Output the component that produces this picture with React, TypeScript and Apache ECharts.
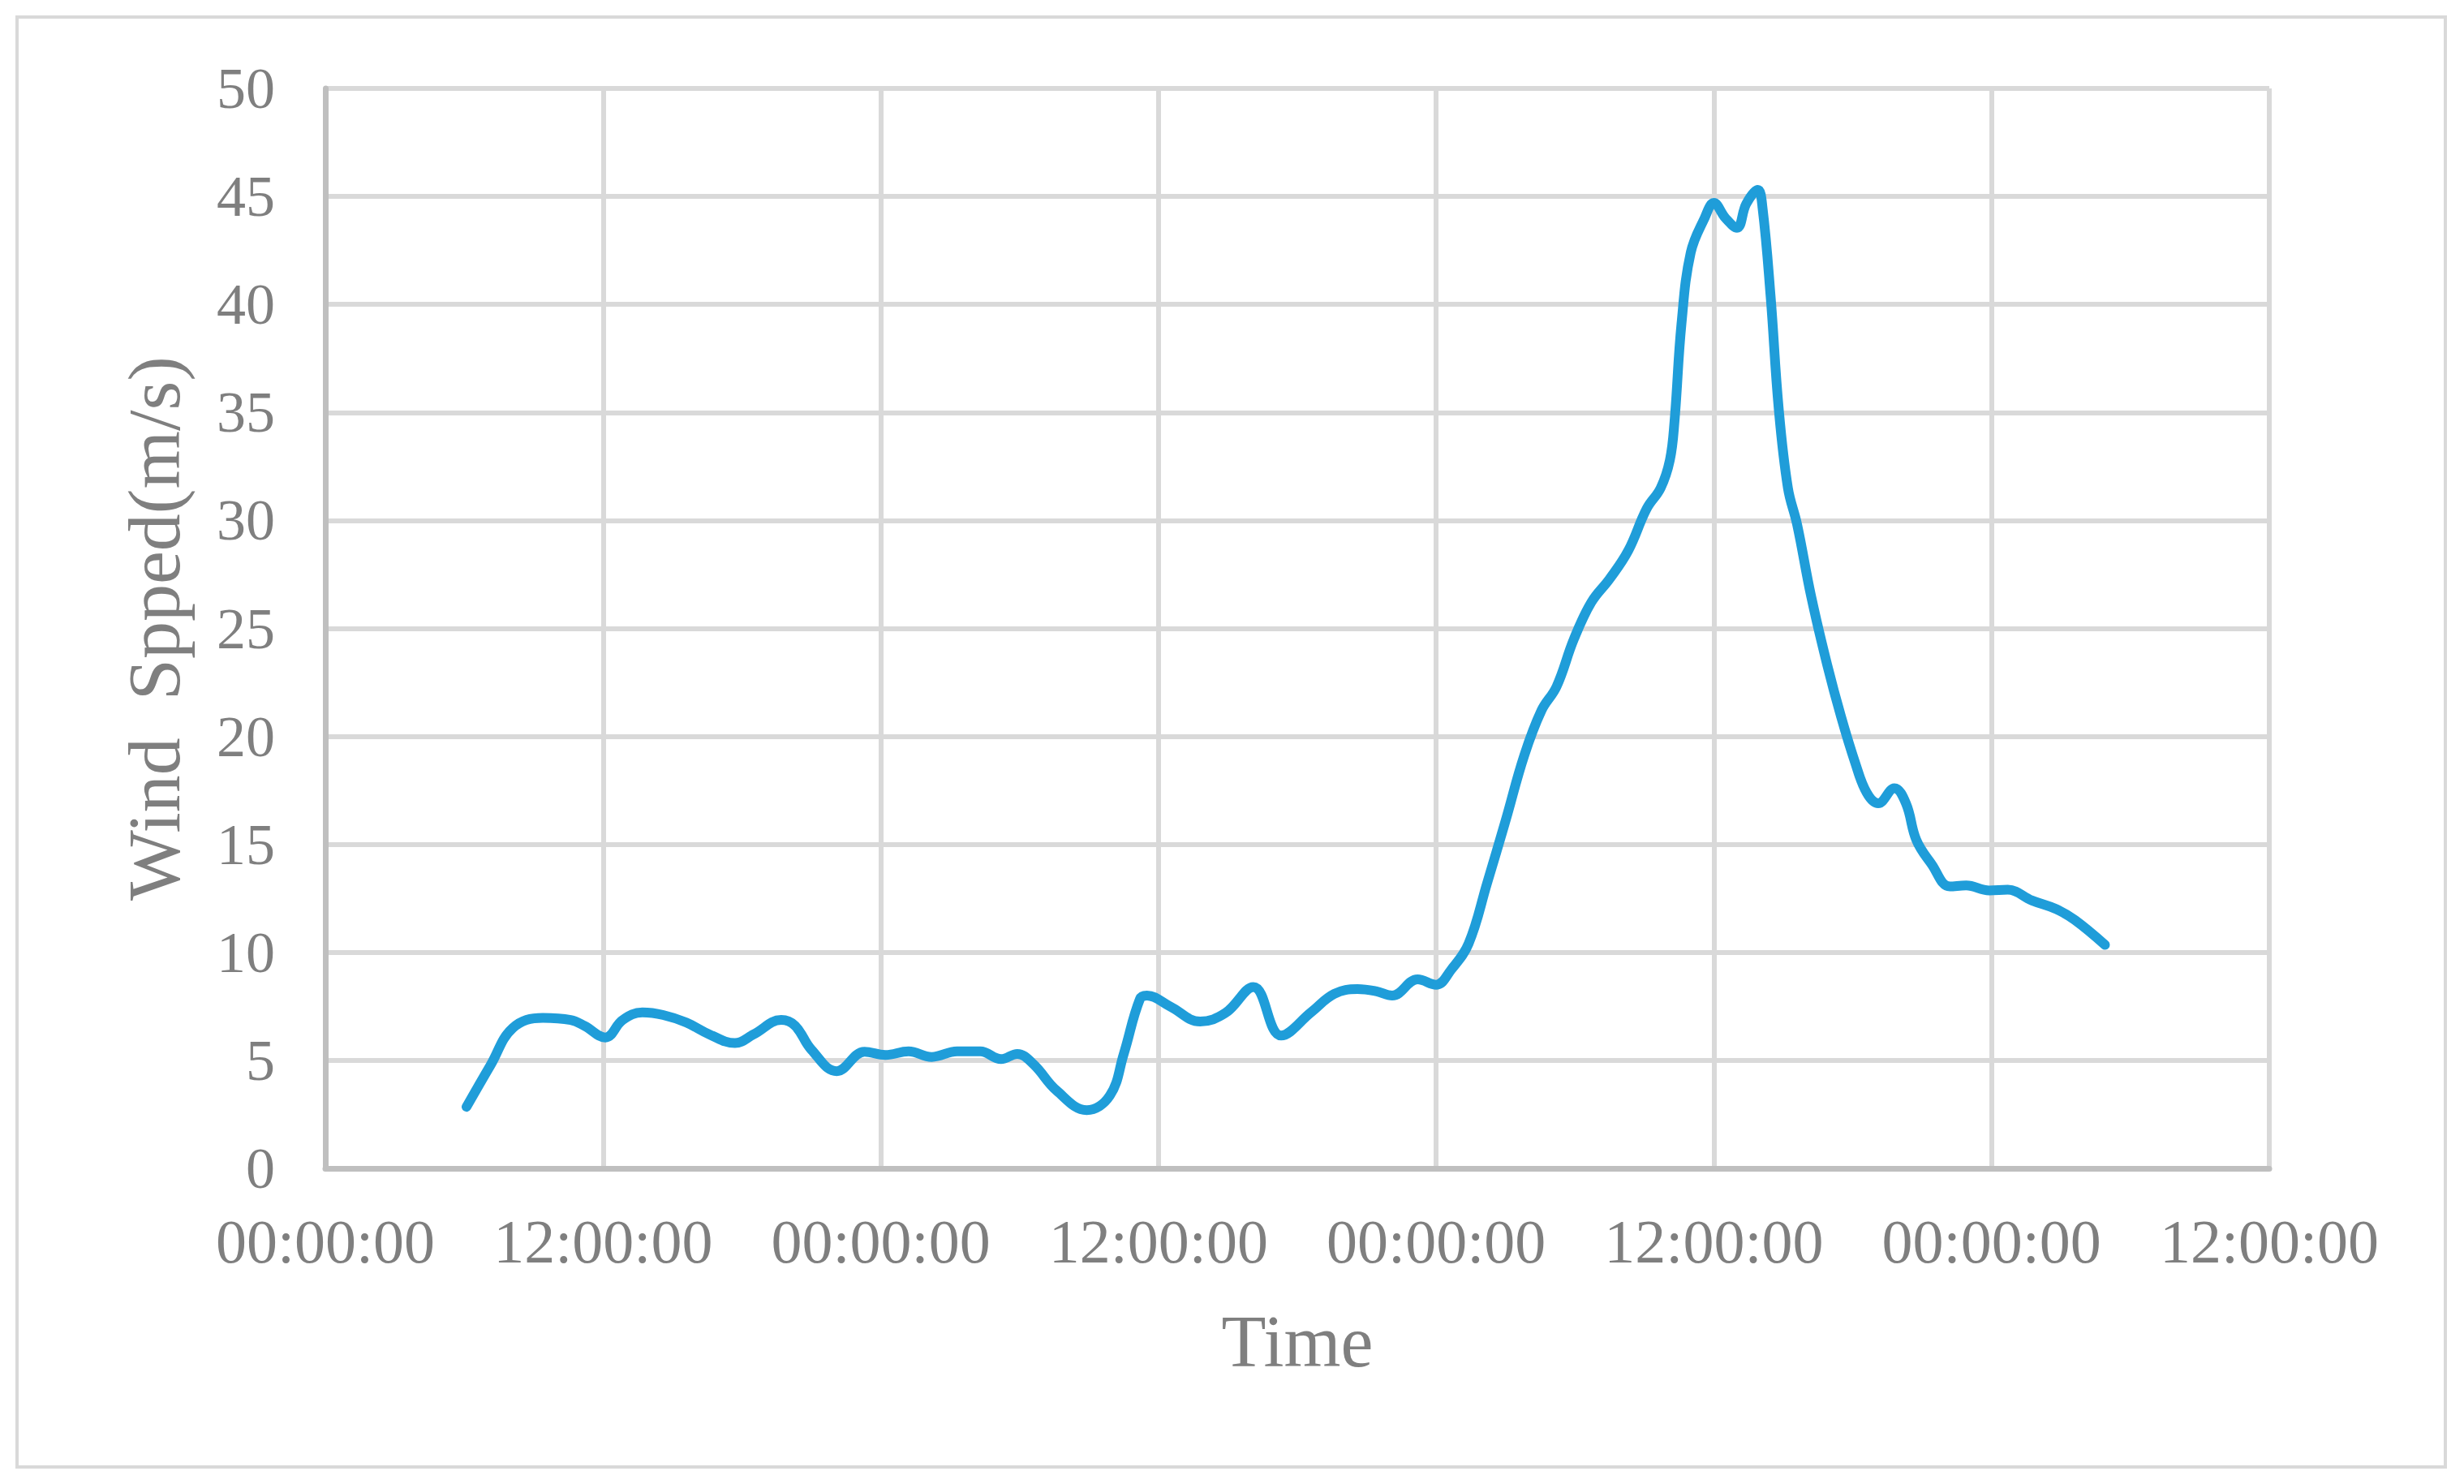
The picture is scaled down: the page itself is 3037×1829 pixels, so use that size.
import React, { useEffect, useRef } from "react";
import * as echarts from "echarts";

// Hours since the first 00:00:00 tick
const hours: number[] = [
  6.1, 7.15, 8.1, 9.4, 10.6, 11.2, 12.1, 12.85, 13.7, 14.6, 15.6, 16.6, 17.7, 18.5, 19.7, 20.3,
  21.0, 22.1, 23.3, 24.2, 25.2, 26.2, 27.3, 28.3, 29.2, 29.9, 30.6, 31.6, 32.9, 33.9, 34.5, 35.2,
  35.5, 36.5, 37.8, 38.9, 40.1, 41.3, 42.6, 43.6, 44.6, 45.4, 46.1, 47.2, 48.0, 48.65, 49.4, 50.2,
  51.0, 51.8, 52.55, 53.2, 53.95, 54.7, 55.5, 56.3, 57.1, 57.7, 58.1, 58.3, 58.6, 59.0, 59.6, 60.0,
  60.5, 61.0, 61.4, 61.9, 62.1, 62.45, 62.8, 63.2, 63.6, 64.2, 64.9, 65.5, 66.1, 66.6, 67.1, 67.8,
  68.3, 68.75, 69.4, 70.2, 70.9, 71.9, 72.7, 73.75, 74.8, 75.6, 76.9,
];

// Wind speed (m/s)
const windSpeed: number[] = [
  2.85, 4.8, 6.5, 6.97, 6.87, 6.6, 6.06, 6.87, 7.22, 7.1, 6.75, 6.2, 5.8, 6.2, 6.87, 6.6,
  5.5, 4.5, 5.4, 5.25, 5.42, 5.16, 5.42, 5.42, 5.06, 5.3, 4.82, 3.6, 2.7, 3.37, 5.3, 7.84,
  8.0, 7.5, 6.8, 7.2, 8.4, 6.15, 7.23, 8.08, 8.3, 8.2, 8.0, 8.75, 8.5, 9.2, 10.4, 13.2,
  16.1, 19.1, 21.2, 22.3, 24.5, 26.2, 27.3, 28.6, 30.55, 31.5, 32.8, 34.6, 39.1, 42.4, 44.0, 44.7,
  44.0, 43.55, 44.66, 45.3, 44.5, 40.4, 35.2, 31.5, 29.8, 26.5, 23.3, 20.9, 18.8, 17.4, 16.9, 17.6,
  16.9, 15.2, 14.1, 13.05, 13.1, 12.87, 12.9, 12.4, 12.0, 11.5, 10.35,
];

const xTickLabels: string[] = [
  "00:00:00", "12:00:00", "00:00:00", "12:00:00", "00:00:00", "12:00:00", "00:00:00", "12:00:00",
];

const yTicks = { min: 0, max: 50, interval: 5 };

export default function App() {
  const ref = useRef<HTMLDivElement>(null);

  useEffect(() => {
    document.body.style.margin = "0";
    if (!ref.current) return;
    const chart = echarts.init(ref.current, undefined, { renderer: "svg" });
    const font = "'Liberation Serif', 'Times New Roman', serif";
    const textColor = "#7F7F7F";
    chart.setOption({
      animation: false,
      backgroundColor: "#FFFFFF",
      graphic: [
        {
          type: "rect",
          shape: { x: 21, y: 21, width: 2993, height: 1787 },
          style: { fill: "none", stroke: "#D9D9D9", lineWidth: 4 },
          silent: true,
          z: 0,
        },
      ],
      grid: { left: 401, right: 240, top: 109, bottom: 389, containLabel: false },
      xAxis: {
        type: "value",
        min: 0,
        max: 84,
        interval: 12,
        name: "Time",
        nameLocation: "middle",
        nameGap: 168,
        nameTextStyle: { fontFamily: font, fontSize: 90, color: textColor },
        axisLine: { show: true, lineStyle: { color: "#BFBFBF", width: 7 } },
        axisTick: { show: false },
        axisLabel: {
          fontFamily: font,
          fontSize: 76,
          color: textColor,
          margin: 52,
          formatter: (v: number) => xTickLabels[Math.round(v / 12)] ?? "",
        },
        splitLine: { show: true, lineStyle: { color: "#D9D9D9", width: 6 } },
      },
      yAxis: {
        type: "value",
        min: yTicks.min,
        max: yTicks.max,
        interval: yTicks.interval,
        name: "Wind  Spped(m/s)",
        nameLocation: "middle",
        nameGap: 165,
        nameTextStyle: { fontFamily: font, fontSize: 92, color: textColor },
        axisLine: { show: true, lineStyle: { color: "#BFBFBF", width: 7 } },
        axisTick: { show: false },
        axisLabel: { fontFamily: font, fontSize: 72, color: textColor, margin: 62 },
        splitLine: { show: true, lineStyle: { color: "#D9D9D9", width: 6 } },
      },
      series: [
        {
          type: "line",
          data: hours.map((h, i) => [h, windSpeed[i]]),
          smooth: 0.4,
          showSymbol: false,
          lineStyle: { color: "#1F9DD9", width: 12, cap: "round", join: "round" },
          z: 5,
        },
      ],
    });
    return () => chart.dispose();
  }, []);

  return <div ref={ref} style={{ width: 3037, height: 1829 }} />;
}
